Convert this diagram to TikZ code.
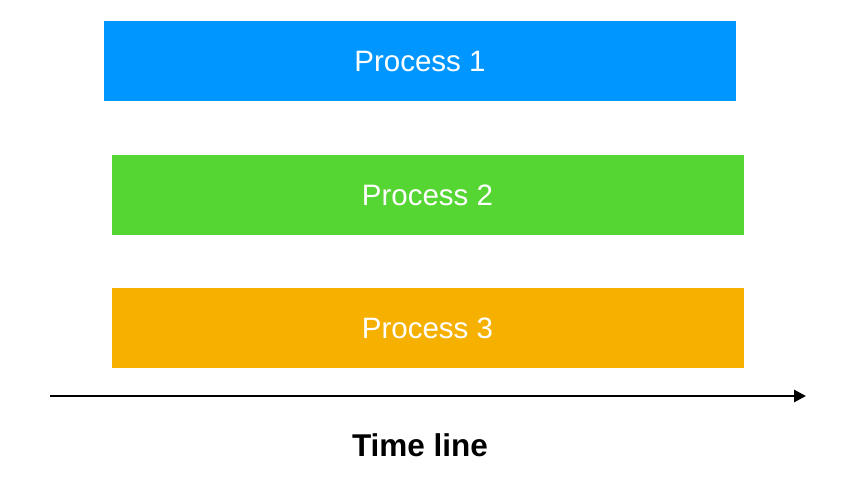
\documentclass[tikz,border=0pt]{standalone}
\usepackage{fontspec}
\setmainfont{Liberation Sans}
\usepackage{tikz}
\usepackage{xcolor}
\usetikzlibrary{arrows.meta,positioning}
\definecolor{procblue}{RGB}{0,150,255}
\definecolor{procgreen}{RGB}{86,214,51}
\definecolor{procorange}{RGB}{246,177,0}

\begin{document}
\begin{tikzpicture}[x=1pt, y=-1pt, >={Triangle[length=12pt,width=12pt]},
    procbox/.style={minimum width=632pt, minimum height=80pt, inner sep=0pt,
        text=white, font=\fontsize{29.5}{34}\selectfont}]
    \useasboundingbox (0,0) rectangle (851,494);
    % Processes
    \node[procbox, fill=procblue]   (p1) at (420,61)  {Process 1};
    \node[procbox, fill=procgreen]  (p2) at (427.5,195) {Process 2};
    \node[procbox, fill=procorange] (p3) at (427.5,328) {Process 3};
    % Time axis
    \coordinate (t0) at (50,396);
    \coordinate (t1) at (806,396);
    \draw[line width=2.8pt, ->] (t0) -- (t1);
    \node[font=\bfseries\fontsize{31.5}{36}\selectfont] (tl) at (420,445) {Time line};
\end{tikzpicture}
\end{document}
